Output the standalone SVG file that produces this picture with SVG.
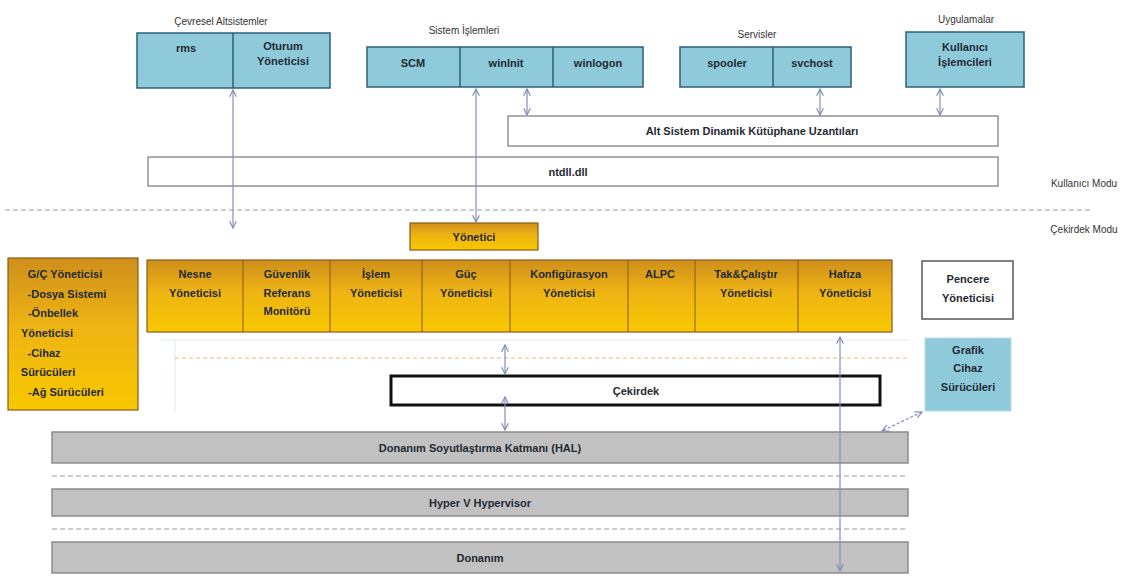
<svg xmlns="http://www.w3.org/2000/svg" width="1139" height="576" viewBox="0 0 1139 576">
  <defs>
    <linearGradient id="exec" x1="0" y1="0" x2="0" y2="1">
      <stop offset="0" stop-color="#cf8f1c"/>
      <stop offset="0.45" stop-color="#eeb414"/>
      <stop offset="1" stop-color="#f8c800"/>
    </linearGradient>
    <marker id="ah" viewBox="0 0 10 10" refX="9" refY="5" markerWidth="7" markerHeight="7" orient="auto-start-reverse">
      <path d="M1,1 L9,5 L1,9" fill="none" stroke="#7e8db5" stroke-width="1.4"/>
    </marker>
    <style>
      .t { font-family: "Liberation Sans", Arial, sans-serif; font-size: 11px; font-weight: bold; fill: #1f2a33; text-anchor: middle; }
      .cap { font-family: "Liberation Sans", Arial, sans-serif; font-size: 10px; fill: #333; text-anchor: middle; }
      .blue { fill: #8fcadb; stroke: #2f5f78; stroke-width: 1.5; }
      .div { stroke: #2f5f78; stroke-width: 1.5; }
      .orange { fill: url(#exec); stroke: #8a5a1a; stroke-width: 1.2; }
      .odiv { stroke: #8a5a1a; stroke-width: 1; }
      .gray { fill: #c1c1c1; stroke: #8c8c8c; stroke-width: 1.5; }
      .white { fill: #ffffff; stroke: #777; stroke-width: 1.2; }
      .conn { stroke: #8490ba; stroke-width: 1.2; fill: none; }
      .dash { stroke: #9a9a9a; stroke-width: 1; stroke-dasharray: 5 3; fill: none; }
    </style>
  </defs>

  <rect width="1139" height="576" fill="#ffffff"/>

  <!-- mode separator and captions -->
  <g id="modes">
    <line x1="5" y1="210" x2="1092" y2="210" class="dash"/>
    <text x="1084" y="187" class="cap">Kullanıcı Modu</text>
    <text x="1084" y="233" class="cap">Çekirdek Modu</text>
  </g>

  <!-- environment subsystems -->
  <g id="cevresel">
    <text x="221" y="25" class="cap">Çevresel Altsistemler</text>
    <rect x="137" y="33" width="193" height="55" class="blue"/>
    <line x1="233" y1="33" x2="233" y2="88" class="div"/>
    <text x="186" y="52" class="t">rms</text>
    <text x="283" y="50" class="t">Oturum</text>
    <text x="283" y="65" class="t">Yöneticisi</text>
  </g>

  <!-- system processes -->
  <g id="sistem">
    <text x="464" y="34" class="cap">Sistem İşlemleri</text>
    <rect x="367" y="47" width="276" height="40" class="blue"/>
    <line x1="460" y1="47" x2="460" y2="87" class="div"/>
    <line x1="553" y1="47" x2="553" y2="87" class="div"/>
    <text x="413" y="67" class="t">SCM</text>
    <text x="506" y="67" class="t">winlnit</text>
    <text x="598" y="67" class="t">winlogon</text>
  </g>

  <!-- services -->
  <g id="servisler">
    <text x="757" y="38" class="cap">Servisler</text>
    <rect x="680" y="47" width="171" height="40" class="blue"/>
    <line x1="773" y1="47" x2="773" y2="87" class="div"/>
    <text x="727" y="67" class="t">spooler</text>
    <text x="812" y="67" class="t">svchost</text>
  </g>

  <!-- applications -->
  <g id="uygulamalar">
    <text x="966" y="23" class="cap">Uygulamalar</text>
    <rect x="906" y="32" width="118" height="55" class="blue"/>
    <text x="965" y="51" class="t">Kullanıcı</text>
    <text x="965" y="66" class="t">İşlemcileri</text>
  </g>

  <!-- subsystem DLLs -->
  <g id="altsistem">
    <rect x="508" y="116" width="490" height="30" class="white"/>
    <text x="752" y="135" class="t">Alt Sistem Dinamik Kütüphane  Uzantıları</text>
  </g>

  <!-- ntdll -->
  <g id="ntdll">
    <rect x="148" y="157" width="850" height="29" class="white"/>
    <text x="568" y="176" class="t">ntdll.dll</text>
  </g>

  <!-- executive -->
  <g id="yonetici">
    <rect x="410" y="223" width="128" height="27" class="orange"/>
    <text x="474" y="241" class="t">Yönetici</text>
  </g>

  <!-- I/O manager column -->
  <g id="gc">
    <rect x="8" y="258" width="130" height="152" class="orange"/>
    <text x="65" y="278" class="t">G/Ç Yöneticisi</text>
    <text x="67" y="298" class="t">-Dosya Sistemi</text>
    <text x="53" y="317" class="t">-Önbellek</text>
    <text x="47" y="337" class="t">Yöneticisi</text>
    <text x="44" y="357" class="t">-Cihaz</text>
    <text x="48" y="376" class="t">Sürücüleri</text>
    <text x="66" y="396" class="t">-Ağ Sürücüleri</text>
  </g>

  <!-- executive components row -->
  <g id="bilesenler">
    <rect x="147" y="260" width="745" height="72" class="orange"/>
    <line x1="243" y1="260" x2="243" y2="332" class="odiv"/>
    <line x1="330" y1="260" x2="330" y2="332" class="odiv"/>
    <line x1="422" y1="260" x2="422" y2="332" class="odiv"/>
    <line x1="510" y1="260" x2="510" y2="332" class="odiv"/>
    <line x1="628" y1="260" x2="628" y2="332" class="odiv"/>
    <line x1="695" y1="260" x2="695" y2="332" class="odiv"/>
    <line x1="798" y1="260" x2="798" y2="332" class="odiv"/>
    <text x="195" y="278" class="t">Nesne</text>
    <text x="195" y="297" class="t">Yöneticisi</text>
    <text x="287" y="278" class="t">Güvenlik</text>
    <text x="287" y="297" class="t">Referans</text>
    <text x="287" y="315" class="t">Monitörü</text>
    <text x="376" y="278" class="t">İşlem</text>
    <text x="376" y="297" class="t">Yöneticisi</text>
    <text x="466" y="278" class="t">Güç</text>
    <text x="466" y="297" class="t">Yöneticisi</text>
    <text x="569" y="278" class="t">Konfigürasyon</text>
    <text x="569" y="297" class="t">Yöneticisi</text>
    <text x="660" y="278" class="t">ALPC</text>
    <text x="746" y="278" class="t">Tak&amp;Çalıştır</text>
    <text x="746" y="297" class="t">Yöneticisi</text>
    <text x="845" y="278" class="t">Hafıza</text>
    <text x="845" y="297" class="t">Yöneticisi</text>
  </g>

  <!-- window manager -->
  <g id="pencere">
    <rect x="922" y="261" width="91" height="58" fill="#ffffff" stroke="#555" stroke-width="1.5"/>
    <text x="968" y="283" class="t">Pencere</text>
    <text x="968" y="302" class="t">Yöneticisi</text>
  </g>

  <!-- graphics drivers -->
  <g id="grafik">
    <rect x="925" y="338" width="86" height="73" fill="#8fcadb" stroke="#b9dde8" stroke-width="1"/>
    <text x="968" y="354" class="t">Grafik</text>
    <text x="968" y="372" class="t">Cihaz</text>
    <text x="968" y="391" class="t">Sürücüleri</text>
  </g>

  <!-- faint kernel area guides -->
  <g id="cekirdek-alan">
    <line x1="160" y1="340" x2="908" y2="340" stroke="#dce8f2" stroke-width="1"/>
    <line x1="175" y1="340" x2="175" y2="412" stroke="#dce8f2" stroke-width="1"/>
    <line x1="175" y1="358" x2="908" y2="358" stroke="#f2b57a" stroke-width="1" stroke-dasharray="4 3"/>
  </g>

  <!-- kernel -->
  <g id="cekirdek">
    <rect x="391" y="376" width="489" height="29" fill="#ffffff" stroke="#111" stroke-width="3"/>
    <text x="636" y="395" class="t">Çekirdek</text>
  </g>

  <!-- HAL -->
  <g id="hal">
    <rect x="52" y="432" width="856" height="31" class="gray"/>
    <text x="480" y="452" class="t">Donanım Soyutlaştırma Katmanı (HAL)</text>
  </g>

  <line x1="52" y1="476" x2="908" y2="476" class="dash"/>

  <!-- hypervisor -->
  <g id="hyperv">
    <rect x="52" y="489" width="856" height="27" class="gray"/>
    <text x="480" y="507" class="t">Hyper V Hypervisor</text>
  </g>

  <line x1="52" y1="529" x2="908" y2="529" class="dash"/>

  <!-- hardware -->
  <g id="donanim">
    <rect x="52" y="542" width="856" height="31" class="gray"/>
    <text x="480" y="562" class="t">Donanım</text>
  </g>

  <!-- connectors -->
  <g id="connectors">
    <line x1="233" y1="90" x2="233" y2="228" class="conn" marker-start="url(#ah)" marker-end="url(#ah)"/>
    <line x1="476" y1="89" x2="476" y2="222" class="conn" marker-start="url(#ah)" marker-end="url(#ah)"/>
    <line x1="527" y1="89" x2="527" y2="115" class="conn" marker-start="url(#ah)" marker-end="url(#ah)"/>
    <line x1="820" y1="89" x2="820" y2="115" class="conn" marker-start="url(#ah)" marker-end="url(#ah)"/>
    <line x1="940" y1="89" x2="940" y2="115" class="conn" marker-start="url(#ah)" marker-end="url(#ah)"/>
    <line x1="505" y1="345" x2="505" y2="374" class="conn" marker-start="url(#ah)" marker-end="url(#ah)"/>
    <line x1="505" y1="397" x2="505" y2="430" class="conn" marker-start="url(#ah)" marker-end="url(#ah)"/>
    <line x1="840" y1="337" x2="840" y2="571" class="conn" marker-start="url(#ah)" marker-end="url(#ah)"/>
    <line x1="922" y1="412" x2="882" y2="431" class="conn" stroke-dasharray="3 2" marker-start="url(#ah)" marker-end="url(#ah)"/>
  </g>
</svg>
